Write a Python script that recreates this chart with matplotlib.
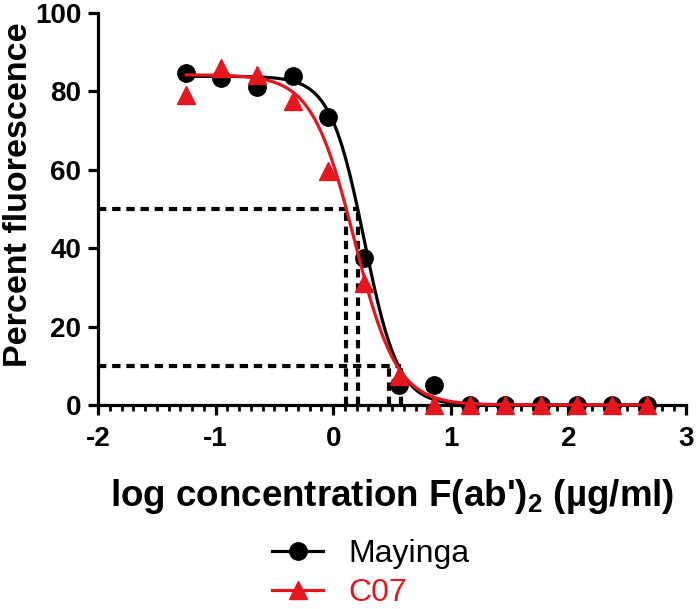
import numpy as np
import matplotlib
matplotlib.use('Agg')
import matplotlib.pyplot as plt
from matplotlib.ticker import MultipleLocator

plt.rcParams['font.family'] = ['Liberation Sans', 'DejaVu Sans']
plt.rcParams['mathtext.fontset'] = 'custom'
plt.rcParams['mathtext.bf'] = 'Liberation Sans:bold'
plt.rcParams['mathtext.rm'] = 'Liberation Sans:bold'
plt.rcParams['axes.unicode_minus'] = False

# log concentration F(ab')2 (ug/ml)
log_conc = [-1.25, -0.95, -0.65, -0.34, -0.04, 0.26, 0.56, 0.86,
            1.16, 1.46, 1.77, 2.07, 2.37, 2.67]
mayinga = [84.6, 83.5, 81.0, 83.8, 73.5, 37.5, 5.2, 5.0,
           0.0, 0.0, 0.0, 0.0, 0.0, 0.0]
c07 = [79.0, 85.8, 84.2, 77.6, 59.7, 31.0, 7.5, 0.0,
       0.0, 0.0, 0.0, 0.0, 0.0, 0.0]

# fitted 4PL parameters: top, bottom, logEC50, hill slope
fit_mayinga = [83.8, 0.0, 0.265, 3.0]
fit_c07 = [84.2, 0.0, 0.18, 2.4]

# dashed guide lines (50 % and 10 % levels)
guide_levels = [50, 10]
guide_x50 = [0.107, 0.207]
guide_x10 = [0.475, 0.575]

red = '#e5161d'


def four_pl(x, p):
    top, bottom, c, h = p
    return bottom + (top - bottom) / (1 + 10 ** ((x - c) * h))


fig = plt.figure(figsize=(7, 6.09), dpi=100)
ax = fig.add_axes([0.14, 0.335, 0.84, 0.644])

# guide lines
dash_kw = dict(color='black', linewidth=3.0, dashes=(2.0, 1.4), zorder=2)
ax.plot([-2, max(guide_x50)], [guide_levels[0]] * 2, **dash_kw)
ax.plot([-2, max(guide_x10)], [guide_levels[1]] * 2, **dash_kw)
for gx in guide_x50:
    ax.plot([gx, gx], [0, guide_levels[0]], **dash_kw)
for gx in guide_x10:
    ax.plot([gx, gx], [0, guide_levels[1]], **dash_kw)

xs = np.linspace(log_conc[0], log_conc[-1], 400)
ax.plot(xs, four_pl(xs, fit_mayinga), color='black', linewidth=2.3, zorder=3,
        clip_on=False)
ax.plot(log_conc, mayinga, 'o', color='black', markersize=12.5, zorder=4,
        clip_on=False)
ax.plot(xs, four_pl(xs, fit_c07), color=red, linewidth=2.3, zorder=5,
        clip_on=False)
ax.plot(log_conc, c07, '^', color=red, markersize=13, zorder=6,
        clip_on=False)

# legend handles
ax.plot([], [], '-o', color='black', markersize=12.5, linewidth=2.3,
        label='Mayinga')
ax.plot([], [], '-^', color=red, markersize=13, linewidth=2.3, label='C07')

ax.set_xlim(-2, 3)
ax.set_ylim(0, 100)
ax.xaxis.set_major_locator(MultipleLocator(1))
ax.xaxis.set_minor_locator(MultipleLocator(0.1))
ax.yaxis.set_major_locator(MultipleLocator(20))

for side in ['top', 'right']:
    ax.spines[side].set_visible(False)
for side in ['left', 'bottom']:
    ax.spines[side].set_linewidth(2.3)

ax.tick_params(axis='both', which='major', length=7, width=2.3,
               labelsize=20, pad=5)
ax.tick_params(axis='x', which='major', pad=8)
ax.tick_params(axis='x', which='minor', length=4.5, width=2.0)
for lbl in ax.get_xticklabels() + ax.get_yticklabels():
    lbl.set_fontweight('bold')

ax.set_xlabel("log concentration F(ab')$_\\mathbf{2}$ (µg/ml)",
              fontsize=26.5, fontweight='bold', labelpad=18)
ax.set_ylabel('Percent fluorescence', fontsize=24.5, fontweight='bold')
ax.yaxis.set_label_coords(-0.108, 0.535)

handles, labels = ax.get_legend_handles_labels()
leg = fig.legend(handles[-2:], labels[-2:], loc='center',
                 bbox_to_anchor=(0.53, 0.058), frameon=False, fontsize=23,
                 labelspacing=0.3, handlelength=1.6, handletextpad=0.8)
for txt, h in zip(leg.get_texts(), leg.legend_handles):
    txt.set_color(h.get_color())

fig.savefig('out.png', dpi=100)
